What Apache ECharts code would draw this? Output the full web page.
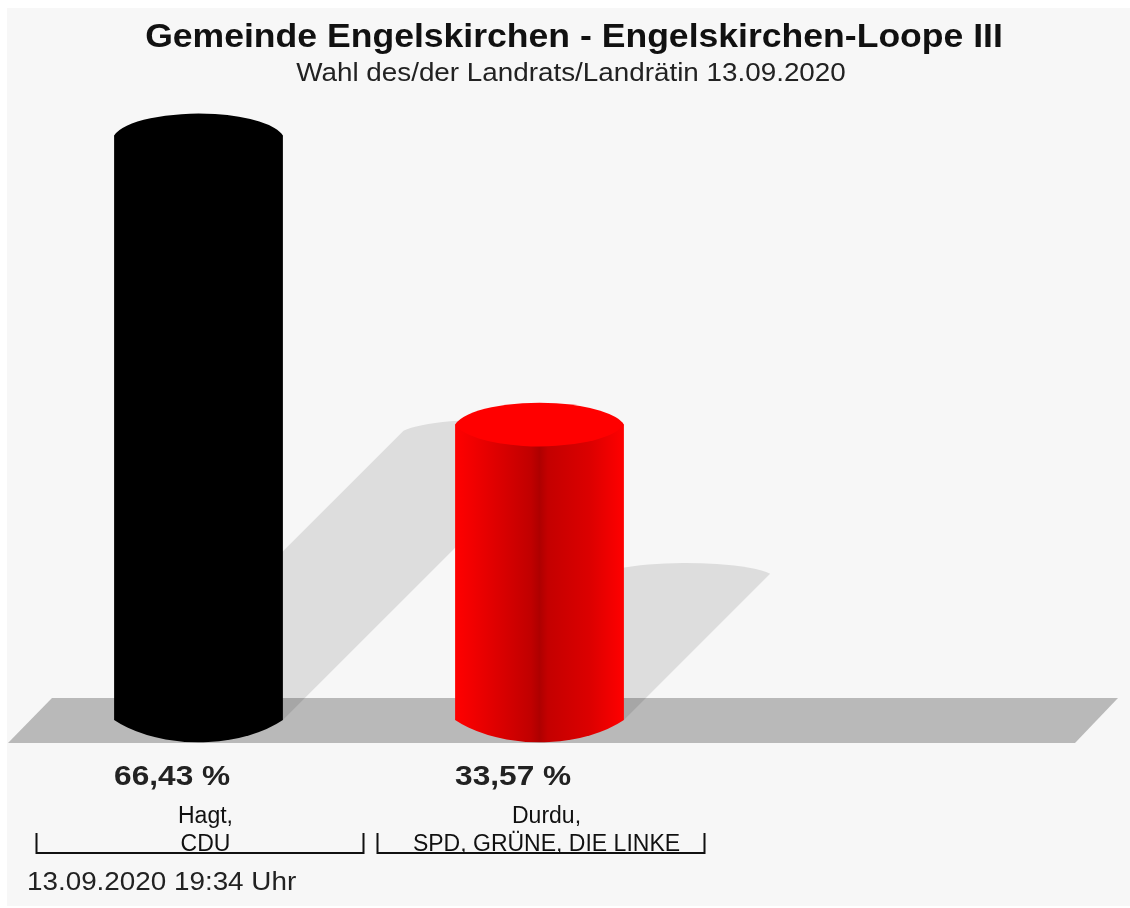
<!DOCTYPE html>
<html>
	<head>
		<meta charset="utf-8">
		<title>Gemeinde Engelskirchen - Engelskirchen-Loope III</title>
		<style>
			html, body { margin: 0; padding: 0; background: #fff; }
			#main { width: 1130px; height: 908px; }
		</style>
	</head>
	<body>
		<div id="main"></div>
		<script src="https://cdn.jsdelivr.net/npm/echarts@6/dist/echarts.min.js"></script>
		<script>
			var categories = ['Hagt,\nCDU', 'Durdu,\nSPD, GRÜNE, DIE LINKE'];
			var shares = [66.43, 33.57];
			var topColors = ['#000000', '#ff0000'];
			var titleText = 'Gemeinde Engelskirchen - Engelskirchen-Loope III';
			var subtitleText = 'Wahl des/der Landrats/Landrätin 13.09.2020';
			var stampText = '13.09.2020 19:34 Uhr';

			var font = '"Liberation Sans", Arial, sans-serif';

			function bodyFill(i) {
				if (i === 0) return '#000000';
				return new echarts.graphic.LinearGradient(0, 0, 1, 0, [
					{offset: 0, color: '#ff0000'},
					{offset: 0.1, color: '#f20000'},
					{offset: 0.3, color: '#d60000'},
					{offset: 0.45, color: '#c00000'},
					{offset: 0.5, color: '#ae0000'},
					{offset: 0.55, color: '#c40000'},
					{offset: 0.8, color: '#dc0000'},
					{offset: 1, color: '#ff0000'}
				]);
			}

			function barX(api) {
				var cx = api.coord([api.value(0), 0])[0];
				var w = api.size([1, 0])[0] * 0.495;
				return [cx - w / 2, cx + w / 2, cx];
			}

			function shadowItem(params, api) {
				var by = api.coord([api.value(0), 0])[1];
				var top = api.coord([api.value(0), api.value(1)])[1];
				var xs = barX(api);
				var off = (by - top) * 0.495;
				return {
					type: 'path',
					shape: {
						pathData: 'M' + xs[0] + ' ' + by +
							'L' + (xs[0] + off) + ' ' + (by - off) +
							'A90 16.5 0 0 1 ' + (xs[1] + off) + ' ' + (by - off) +
							'L' + xs[1] + ' ' + by + 'Z'
					},
					style: {fill: 'rgba(0,0,0,0.1)'}
				};
			}

			function barItem(params, api) {
				var i = api.value(0);
				var by = api.coord([i, 0])[1];
				var top = api.coord([i, api.value(1)])[1];
				var xs = barX(api);
				var x0 = xs[0], x1 = xs[1], cx = xs[2];
				return {
					type: 'group',
					children: [{
						type: 'path',
						shape: {
							pathData: 'M' + x0 + ' ' + top +
								'L' + x1 + ' ' + top +
								'L' + x1 + ' ' + by +
								'A110 62 0 0 1 ' + x0 + ' ' + by + 'Z'
						},
						style: {fill: bodyFill(i)}
					}, {
						// Deckel
						type: 'path',
						shape: {
							pathData: 'M' + x0 + ' ' + top +
								'A86 27 0 0 1 ' + x1 + ' ' + top +
								'A86 27 0 0 1 ' + x0 + ' ' + top + 'Z'
						},
						style: {fill: topColors[i]}
					}, {
						type: 'text',
						x: x0,
						y: by + 57,
						scaleX: 1.13,
						style: {
							text: api.value(1).toFixed(2).replace('.', ',') + ' %',
							align: 'left', verticalAlign: 'middle',
							font: 'bold 28px ' + font,
							fill: '#222222'
						}
					}, {
						// Klammer unter dem Kandidaten
						type: 'polyline',
						shape: {points: [
							[cx - 162, by + 113],
							[cx - 162, by + 133],
							[cx + 165, by + 133],
							[cx + 165, by + 113]
						]},
						style: {stroke: '#111111', lineWidth: 2, fill: null}
					}]
				};
			}

			var chart = echarts.init(document.getElementById('main'));
			chart.setOption({
				animation: false,
				graphic: [
					{type: 'rect', z: -10, shape: {x: 7, y: 8, width: 1123, height: 898}, style: {fill: '#f7f7f7'}},
					{type: 'polygon', z: -5, shape: {points: [[8, 743], [52, 698], [1118, 698], [1075, 743]]}, style: {fill: '#b9b9b9'}},
					{type: 'text', z: 5, x: 574, y: 38, scaleX: 1.046, style: {text: titleText, align: 'center', verticalAlign: 'middle', font: 'bold 34px ' + font, fill: '#111111'}},
					{type: 'text', z: 5, x: 571, y: 74, scaleX: 1.07, style: {text: subtitleText, align: 'center', verticalAlign: 'middle', font: '26px ' + font, fill: '#222222'}},
					{type: 'text', z: 5, x: 27, y: 883, scaleX: 1.07, style: {text: stampText, align: 'left', verticalAlign: 'middle', font: '26px ' + font, fill: '#222222'}}
				],
				grid: {left: 28, width: 682, top: 104, bottom: 188},
				xAxis: {
					type: 'category',
					data: categories,
					axisLine: {show: false},
					axisTick: {show: false},
					axisLabel: {
						interval: 0,
						margin: 83,
						fontFamily: font,
						fontSize: 23,
						lineHeight: 28,
						color: '#111111',
						padding: [0, 0, 0, 14]
					}
				},
				yAxis: {type: 'value', min: 0, max: 70, show: false},
				series: [{
					type: 'custom',
					z: 1,
					renderItem: shadowItem,
					encode: {x: 0, y: 1},
					data: shares.map(function(v, i) { return [i, v]; })
				}, {
					type: 'custom',
					z: 2,
					renderItem: barItem,
					encode: {x: 0, y: 1},
					data: shares.map(function(v, i) { return [i, v]; })
				}]
			});
		</script>
	</body>
</html>
